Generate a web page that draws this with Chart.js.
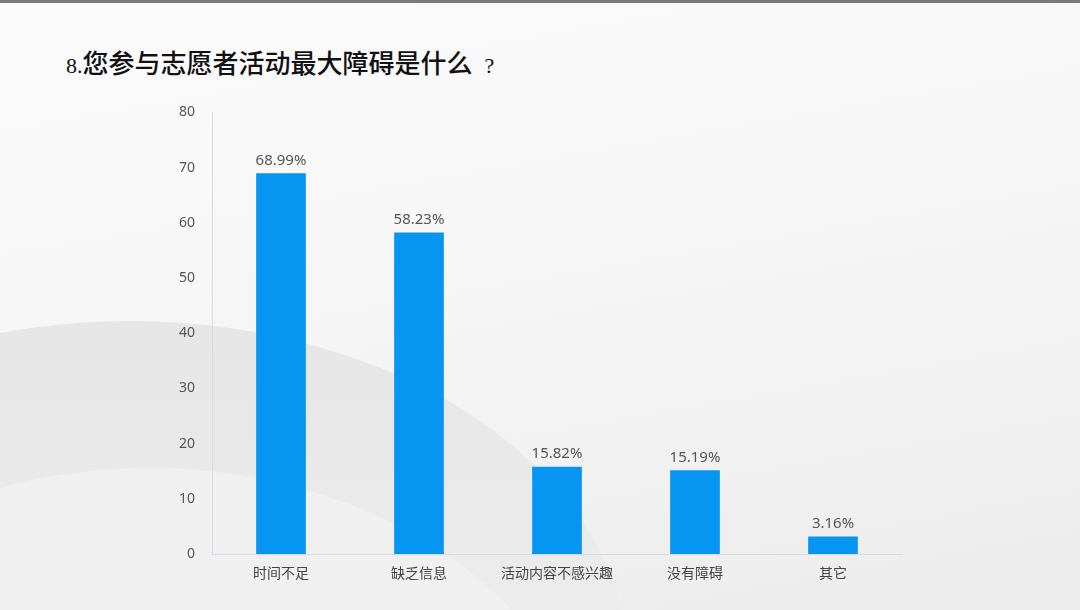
<!DOCTYPE html>
<html lang="zh">
<head>
    <meta charset="UTF-8">
    <title>志愿者活动障碍</title>
    <script src="https://cdn.jsdelivr.net/npm/chart.js"></script>
    <style>
        html, body { margin: 0; padding: 0; }
        body {
            width: 1080px; height: 610px; overflow: hidden; position: relative;
            background: linear-gradient(170deg, #fbfbfb 0%, #f6f6f6 45%, #ececec 100%);
            border-top: 3px solid #7a7a7a; box-sizing: border-box;
        }
        /* soft grey waves in the background */
        .wave1 {
            position: absolute; left: -370px; top: 318px; width: 1000px; height: 700px;
            border-radius: 50%;
            background: linear-gradient(180deg, #e6e6e6 0%, #ececec 40%);
        }
        .wave2 {
            position: absolute; left: -300px; top: 465px; width: 900px; height: 700px;
            border-radius: 50%;
            background: #f0f0f0;
        }
        h1 {
            position: absolute; left: 66px; top: 40px; margin: 0;
            font: 500 26px "Noto Sans CJK SC", sans-serif; color: #111;
        }
        h1 .num { font-family: "Liberation Serif", serif; font-weight: 400; font-size: 22px; }
        h1 .q { margin-left: 12px; }
        .chart-box { position: absolute; left: 160px; top: 84px; width: 760px; height: 514px; }
    </style>
</head>
<body>
    <div class="wave1"></div>
    <div class="wave2"></div>
    <h1><span class="num">8.</span>您参与志愿者活动最大障碍是什么<span class="num q">?</span></h1>
    <div class="chart-box"><canvas id="barChart"></canvas></div>

    <script>
        // Data
        const categories = ['时间不足', '缺乏信息', '活动内容不感兴趣', '没有障碍', '其它'];
        const percents = [68.99, 58.23, 15.82, 15.19, 3.16];
        const yTicks = [0, 10, 20, 30, 40, 50, 60, 70, 80];

        // draw "xx.xx%" above each bar
        const valueLabels = {
            id: 'valueLabels',
            afterDatasetsDraw(chart) {
                const ctx = chart.ctx;
                const meta = chart.getDatasetMeta(0);
                ctx.save();
                ctx.font = '15px "Noto Sans", sans-serif';
                ctx.fillStyle = '#555';
                ctx.textAlign = 'center';
                ctx.textBaseline = 'bottom';
                meta.data.forEach((bar, i) => {
                    ctx.fillText(percents[i].toFixed(2) + '%', bar.x, bar.y - 5);
                });
                ctx.restore();
            }
        };

        const ctx = document.getElementById('barChart').getContext('2d');
        new Chart(ctx, {
            type: 'bar',
            data: {
                labels: categories,
                datasets: [{
                    data: percents,
                    backgroundColor: '#0795f2',
                    categoryPercentage: 1,
                    barPercentage: 0.36
                }]
            },
            options: {
                responsive: true,
                maintainAspectRatio: false,
                animation: false,
                layout: { padding: { top: 12, right: 18 } },
                plugins: { legend: { display: false }, tooltip: { enabled: false } },
                scales: {
                    x: {
                        grid: { display: false, drawTicks: false },
                        border: { color: '#d3dae4', width: 1 },
                        ticks: { color: '#444', font: { size: 14, family: '"Noto Sans CJK SC", sans-serif' }, padding: 10 },
                        afterFit: s => { s.height = 47; }
                    },
                    y: {
                        min: 0, max: 80,
                        grid: { display: false, drawTicks: false },
                        border: { color: '#d3dae4', width: 1 },
                        afterBuildTicks: s => { s.ticks = yTicks.map(v => ({ value: v })); },
                        ticks: { color: '#555', font: { size: 14, family: '"Noto Sans", sans-serif' }, padding: 17 },
                        afterFit: s => { s.width = 52; }
                    }
                }
            },
            plugins: [valueLabels]
        });
    </script>
</body>
</html>
